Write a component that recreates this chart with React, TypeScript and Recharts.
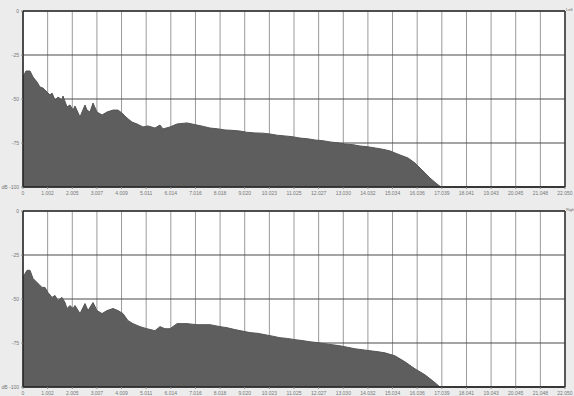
import React from 'react';
import {
  AreaChart,
  Area,
  XAxis,
  YAxis,
  CartesianGrid,
  ReferenceLine,
} from 'recharts';

// Spectrum of the left channel (frequency in Hz, level in dB)
const freqLeft = [
  0, 122, 285, 407, 570, 692, 814, 976, 1098, 1180, 1302, 1424, 1587, 1627, 1790,
  1912, 2034, 2115, 2319, 2522, 2603, 2726, 2848, 3010, 3214, 3417, 3661, 3865,
  4027, 4231, 4434, 4638, 4882, 5085, 5370, 5573, 5695, 5980, 6265, 6672, 7078,
  7350, 7607, 7900, 8217, 8500, 8828, 9100, 9438, 9750, 10048, 10350, 10658,
  10950, 11268, 11580, 11878, 12200, 12489, 12800, 13099, 13400, 13709, 14000,
  14319, 14650, 14930, 15336, 15662, 15947, 16231, 16557, 16842, 17004, 22050,
];
const levelLeft = [
  -37.5, -34.1, -34.1, -37.5, -40.3, -43.2, -43.8, -46.0, -47.7, -46.6, -50.6,
  -48.9, -50.6, -48.3, -54.5, -53.4, -56.3, -54.0, -60.2, -53.4, -56.3, -57.4,
  -52.3, -57.4, -59.1, -57.4, -56.3, -56.3, -58.0, -60.8, -63.1, -64.2, -65.9,
  -65.3, -66.5, -64.8, -67.0, -65.9, -64.2, -63.6, -64.8, -65.6, -66.5, -66.9,
  -67.6, -67.8, -68.2, -68.9, -69.3, -69.4, -69.9, -70.6, -71.0, -71.4, -72.2,
  -72.6, -73.3, -73.7, -74.4, -74.9, -75.6, -75.9, -76.7, -77.1, -77.8, -78.6,
  -79.5, -81.8, -83.5, -86.4, -90.3, -94.9, -98.3, -100, -100,
];

// Spectrum of the right channel
const freqRight = [
  0, 163, 285, 407, 570, 773, 895, 1017, 1180, 1302, 1424, 1587, 1709, 1790,
  1912, 2034, 2115, 2319, 2522, 2644, 2848, 3010, 3214, 3417, 3661, 3865, 4068,
  4272, 4475, 4760, 5044, 5370, 5573, 5777, 5980, 6265, 6672, 7078, 7607, 8014,
  8300, 8624, 8950, 9234, 9550, 9845, 10150, 10455, 10750, 11065, 11350, 11675,
  12000, 12285, 12600, 12896, 13200, 13506, 13800, 14116, 14400, 14726, 15133,
  15540, 15947, 16354, 16679, 16964, 22050,
];
const levelRight = [
  -37.7, -33.7, -33.7, -38.3, -40.6, -43.4, -43.4, -46.3, -49.1, -48.0, -50.9,
  -49.1, -52.0, -55.4, -53.7, -55.4, -53.7, -58.3, -52.6, -56.6, -52.0, -56.6,
  -58.3, -56.6, -55.4, -56.6, -58.3, -62.3, -64.0, -65.7, -66.9, -68.0, -65.7,
  -66.9, -66.9, -64.0, -64.0, -64.6, -64.6, -65.7, -66.3, -67.4, -68.3, -69.1,
  -69.5, -70.3, -71.1, -72.0, -72.4, -73.1, -73.6, -74.3, -74.8, -75.4, -76.0,
  -76.6, -77.4, -78.3, -78.8, -79.4, -79.9, -80.6, -82.3, -85.7, -89.7, -93.1,
  -96.6, -100, -100,
];

const xTicks = [
  0, 1002, 2005, 3007, 4009, 5011, 6014, 7016, 8018, 9020, 10023, 11025, 12027,
  13030, 14032, 15034, 16036, 17039, 18041, 19043, 20045, 21048, 22050,
];
const yTicks = [0, -25, -50, -75, -100];
const channelNames = ['Left', 'Right'];

const fmtHz = (v: number) => String(v).replace(/\B(?=(\d{3})+(?!\d))/g, '.');
const fmtDb = (v: number) => (v === -100 ? 'dB -100' : String(v));

const FONT = 'Liberation Sans, Arial';
const tickStyle = { fontSize: 5, fill: '#777', fontFamily: FONT };

// plain svg tick so that "dB -100" stays on one line
const YTick = (props: any) => {
  const { x, y, payload } = props;
  return (
    <text x={x} y={y} dy={2} textAnchor="end" fontSize={5} fill="#777" fontFamily={FONT}>
      {fmtDb(payload.value)}
    </text>
  );
};

function Panel({ freq, level, name }: { freq: number[]; level: number[]; name: string }) {
  const data = freq.map((f, i) => ({ f, db: level[i] }));
  return (
    <div style={{ position: 'relative', width: 574, height: 200 }}>
      <AreaChart width={574} height={200} data={data} margin={{ top: 11, right: 9, left: 0, bottom: 0 }}>
        <CartesianGrid fill="#fff" horizontal={false} stroke="#9a9a9a" strokeWidth={1} />
        <CartesianGrid vertical={false} stroke="#4a4a4a" strokeWidth={1} />
        <XAxis
          type="number"
          dataKey="f"
          domain={[0, 22050]}
          ticks={xTicks}
          tickFormatter={fmtHz}
          interval={0}
          height={13}
          tick={tickStyle}
          tickLine={{ stroke: '#888' }}
          tickSize={2}
          axisLine={{ stroke: '#222', strokeWidth: 1.5 }}
        />
        <YAxis
          type="number"
          domain={[-100, 0]}
          ticks={yTicks}
          interval={0}
          width={23}
          tick={<YTick />}
          tickLine={{ stroke: '#888' }}
          tickSize={2}
          axisLine={{ stroke: '#222', strokeWidth: 1.5 }}
        />
        <Area
          type="linear"
          dataKey="db"
          baseValue={-100}
          stroke="#555"
          strokeWidth={1}
          fill="#5e5e5e"
          fillOpacity={1}
          isAnimationActive={false}
          dot={false}
          activeDot={false}
        />
        <ReferenceLine y={0} stroke="#333" strokeWidth={1.5} />
        <ReferenceLine x={22050} stroke="#333" strokeWidth={1.5} />
      </AreaChart>
      <div
        style={{
          position: 'absolute',
          left: 566,
          top: 7,
          fontSize: 4,
          color: '#666',
          fontFamily: FONT,
          whiteSpace: 'nowrap',
        }}
      >
        {name}
      </div>
    </div>
  );
}

export default function App() {
  return (
    <div
      style={{
        position: 'absolute',
        left: 0,
        top: 0,
        width: 574,
        height: 396,
        background: '#ececec',
        overflow: 'hidden',
      }}
    >
      <Panel freq={freqLeft} level={levelLeft} name={channelNames[0]} />
      <Panel freq={freqRight} level={levelRight} name={channelNames[1]} />
    </div>
  );
}
